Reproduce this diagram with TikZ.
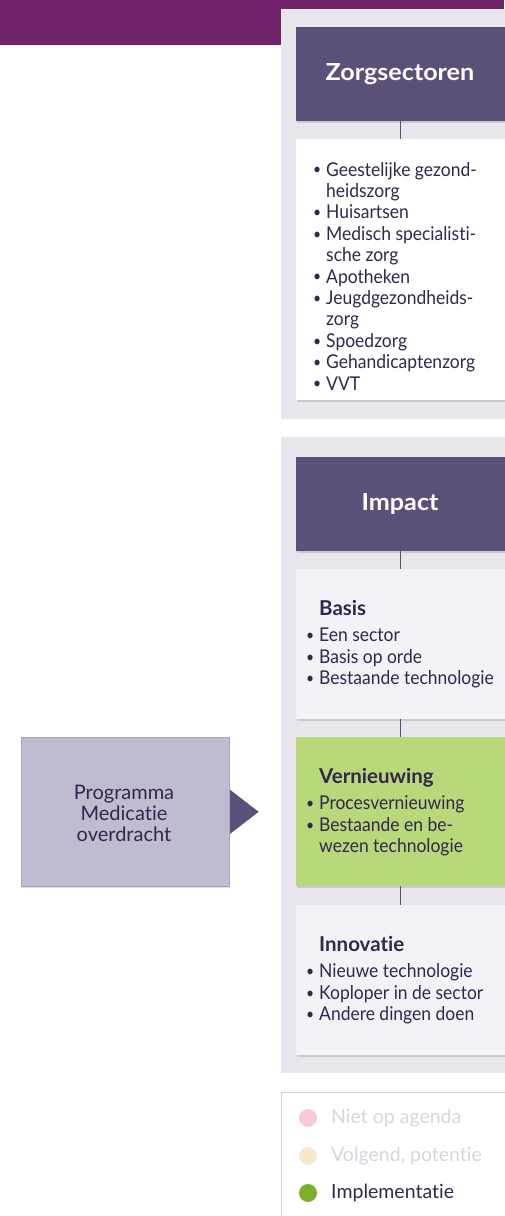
\documentclass[tikz,border=0pt]{standalone}
\usepackage{fontspec}
\setmainfont{Lato}[Ligatures=NoCommon,FakeStretch=0.92]
\newfontfamily\widefont{Lato}[Ligatures=NoCommon]
\newfontfamily\hdrfont{Lato}[Ligatures=NoCommon,FakeStretch=1.07]
\usetikzlibrary{shadows,calc}
\definecolor{topbar}{HTML}{72246A}
\definecolor{panel}{HTML}{E9E6EE}
\definecolor{hdr}{HTML}{5C5079}
\definecolor{lightbox}{HTML}{F3F2F6}
\definecolor{greenbox}{HTML}{B8D87A}
\definecolor{progfill}{HTML}{C0BBD0}
\definecolor{progline}{HTML}{A9A4BD}
\definecolor{txt}{HTML}{33264F}
\definecolor{legline}{HTML}{D3D0DA}
\definecolor{dimtxt}{HTML}{D8D5E0}
\definecolor{cpink}{HTML}{F6CDD6}
\definecolor{cbeige}{HTML}{F9E7CB}
\definecolor{cgreen}{HTML}{7CB02B}
\newcommand\bul{\makebox[14pt][l]{\hspace{1pt}\raisebox{0.12ex}{\scalebox{0.8}{\textbullet}}}}
\newcommand\cont{\hspace*{14pt}}
\newcommand\ttl[1]{{\widefont\fontsize{20.5}{22}\selectfont\bfseries #1}}
\begin{document}
\begin{tikzpicture}[x=1pt,y=-1pt,
  shad/.style={drop shadow={shadow xshift=0.5pt,shadow yshift=-1.5pt,opacity=0.13,fill=black}},
  card/.style={shad,anchor=north west,minimum width=230pt,inner sep=0pt,outer sep=0pt},
  hdrbox/.style={card,fill=hdr,minimum height=94pt},
  hdrtxt/.style={text=white,font=\hdrfont\fontsize{23.5}{26}\selectfont\bfseries},
  conn/.style={draw=hdr,line width=0.8pt},
  txtnode/.style={anchor=base west,inner sep=0pt,text=txt,font=\fontsize{19}{21.4}\selectfont},
  legtxt/.style={anchor=west,inner sep=0pt,font=\widefont\fontsize{19.5}{21}\selectfont},
  dot/.style={circle,minimum size=18pt,inner sep=0pt}]
\useasboundingbox (0,0) rectangle (504,1216);
\fill[white] (0,0) rectangle (504,1216);
% top bar
\fill[topbar] (0,0) rectangle (504,9);
\fill[topbar] (0,0) rectangle (281,45);
% panels
\fill[panel] (281,9) rectangle (530,419);
\fill[panel] (281,437) rectangle (530,1073);

% panel 1
\node[hdrbox] (zorg) at (296,27) {};
\node[hdrtxt] (zorgt) at (400,74) {Zorgsectoren};
\node[card,fill=white,minimum height=261pt] (list1) at (296,139) {};
\coordinate (a1) at (400,121);
\coordinate (a2) at (400,139);
\draw[conn] (a1) -- (a2);
\node[txtnode] (list1t) at (312,176) {\begin{tabular}[t]{@{}l@{}}
\bul Geestelijke gezond-\\
\cont heidszorg\\
\bul Huisartsen\\
\bul Medisch specialisti-\\
\cont sche zorg\\
\bul Apotheken\\
\bul Jeugdgezondheids-\\
\cont zorg\\
\bul Spoedzorg\\
\bul Gehandicaptenzorg\\
\bul VVT
\end{tabular}};

% panel 2
\node[hdrbox] (impact) at (296,457) {};
\node[hdrtxt] (impactt) at (400,504) {Impact};
\node[card,fill=lightbox,minimum height=150pt] (basis) at (296,569) {};
\node[card,fill=greenbox,minimum height=149pt] (vern) at (296,737) {};
\node[card,fill=lightbox,minimum height=150pt] (innov) at (296,905) {};
\coordinate (c1) at (400,551);
\coordinate (c2) at (400,569);
\coordinate (c3) at (400,719);
\coordinate (c4) at (400,737);
\coordinate (c5) at (400,886);
\coordinate (c6) at (400,905);
\draw[conn] (c1) -- (c2);
\draw[conn] (c3) -- (c4);
\draw[conn] (c5) -- (c6);

\node[txtnode] (basist) at ($(basis.north west)+(9,46)$) {\begin{tabular}[t]{@{}l@{}}
\cont\ttl{Basis}\\[5.5pt]
\bul Een sector\\
\bul Basis op orde\\
\bul Bestaande technologie
\end{tabular}};
\node[txtnode] (vernt) at ($(vern.north west)+(9,46)$) {\begin{tabular}[t]{@{}l@{}}
\cont\ttl{Vernieuwing}\\[5.5pt]
\bul Procesvernieuwing\\
\bul Bestaande en be-\\
\cont wezen technologie
\end{tabular}};
\node[txtnode] (innovt) at ($(innov.north west)+(9,46)$) {\begin{tabular}[t]{@{}l@{}}
\cont\ttl{Innovatie}\\[5.5pt]
\bul Nieuwe technologie\\
\bul Koploper in de sector\\
\bul Andere dingen doen
\end{tabular}};

% programme box
\node[shad,anchor=north west,fill=progfill,draw=progline,line width=0.6pt,minimum width=208pt,minimum height=149pt,inner sep=0pt] (prog) at (21,737) {};
\node[align=center,text=txt,font=\widefont\fontsize{20}{21}\selectfont] (progt) at (124,813) {Programma\\Medicatie\\overdracht};
\fill[hdr] ($(prog.east)+(0.5,-22)$) -- ($(prog.east)+(29,0)$) -- ($(prog.east)+(0.5,22)$) -- cycle;

% legend
\node[anchor=north west,draw=legline,fill=white,line width=0.8pt,minimum width=240pt,minimum height=140pt,inner sep=0pt] (legend) at (281,1092) {};
\node[dot,fill=cpink] (d1) at (308,1118) {};
\node[dot,fill=cbeige] (d2) at (308,1156) {};
\node[dot,fill=cgreen] (d3) at (308,1193) {};
\node[legtxt,text=dimtxt] (l1) at (331,1118) {Niet op agenda};
\node[legtxt,text=dimtxt] (l2) at (331,1156) {Volgend, potentie};
\node[legtxt,text=txt] (l3) at (331,1193) {Implementatie};
\end{tikzpicture}
\end{document}
